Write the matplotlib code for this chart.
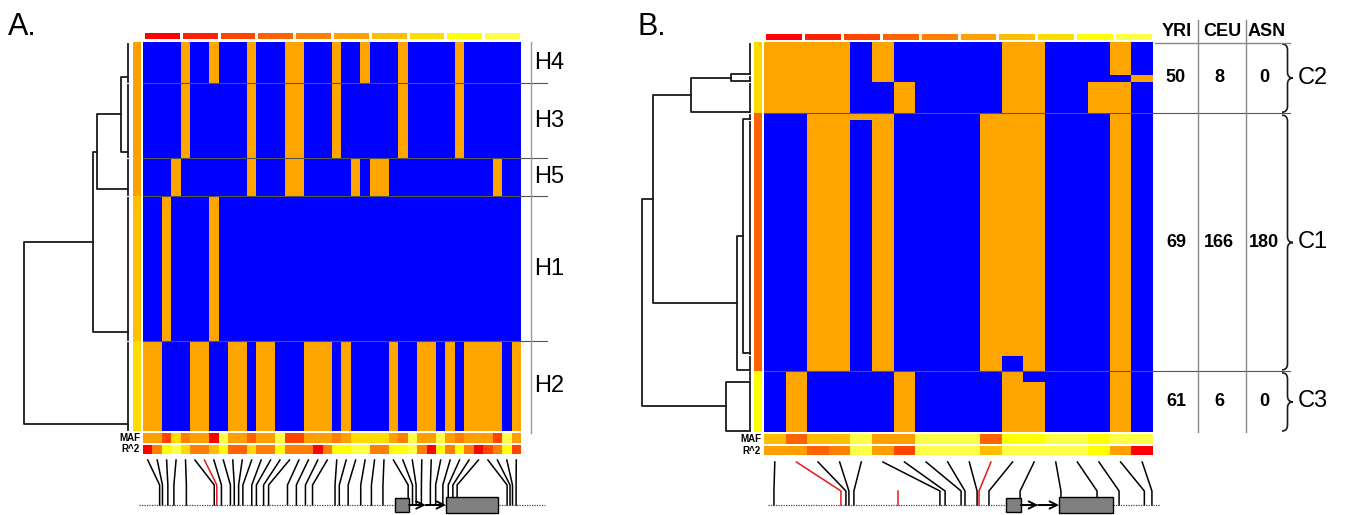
import numpy as np
import matplotlib.pyplot as plt
import matplotlib.transforms as mtransforms
from matplotlib.colors import ListedColormap
from matplotlib.patches import Rectangle, PathPatch
from matplotlib.path import Path

plt.rcParams['font.family'] = ['Liberation Sans', 'DejaVu Sans']

W, H = 1353, 515

# ---------------- data ----------------
heat_colors = ['#FF0000', '#FF2000', '#FF4400', '#FF6200', '#FF8000',
               '#FFA000', '#FFBE00', '#FFDC00', '#FFFF00', '#FFFF48']
hap_colors = ['#0000FF', '#FFA500']

# panel A, haplotype groups top to bottom (1 = minor allele, orange)
a_groups = ['H4', 'H3', 'H5', 'H1', 'H2']
a_counts = [41, 75, 38, 145, 90]
a_haps = ['0000100100' '0100011000' '1001000100' '0001000000',
          '0000100000' '0100011000' '1000000100' '0001000000',
          '0001000000' '0100011000' '0010110000' '0000000100',
          '0010000100' '0000000000' '0000000000' '0000000000',
          '1100011001' '1011000111' '0100001001' '1010111101']
a_group_level = [5, 5, 5, 6, 7]
a_maf = [5, 5, 2, 7, 4, 5, 5, 0, 9, 5, 5, 3, 5, 5, 9, 2, 2, 5, 5, 5,
         4, 5, 7, 7, 7, 7, 5, 4, 9, 5, 5, 9, 5, 4, 5, 5, 5, 2, 9, 5]
a_r2 = [0, 4, 8, 9, 7, 4, 4, 6, 8, 3, 3, 7, 4, 4, 8, 4, 4, 4, 0, 4,
        8, 8, 9, 9, 4, 4, 8, 8, 9, 4, 0, 8, 4, 8, 4, 0, 2, 4, 8, 2]
a_attach = [0.85, 0.92, 0.82, 0.94, 0.92]
a_merges = [(0, 1, 0.07), (5, 2, 0.30), (6, 3, 0.34), (7, 4, 1.0)]
a_snp_pos = [1.76, 2.06, 2.63, 3.27, 4.59, 7.54, 7.81, 8.30, 9.25, 9.66,
             10.12, 10.57, 11.51, 12.0, 12.76, 13.29, 15.29, 16.23, 17.19, 17.94,
             20.32, 20.77, 21.71, 23.04, 24.17, 25.39, 28.06, 28.52, 28.90, 29.46,
             30.41, 30.97, 31.73, 32.30, 32.79, 33.24, 38.53, 38.84, 39.10, 39.48]
a_red = [6]
a_exons = [(26.67, 28.15), (32.06, 37.57)]

# panel B, haplotype blocks top to bottom
b_blocks = ['C2', 'C2', 'C2', 'C1', 'C1', 'C1', 'C3', 'C3']
b_counts = [33, 7, 31, 7, 235, 15, 11, 50]
b_haps = ['1111010000' '01100010',
          '1111010000' '01100001',
          '1111001000' '01100110',
          '0011110000' '11100010',
          '0011010000' '11100010',
          '0011010000' '10100010',
          '0100001000' '01000010',
          '0100001000' '01100010']
b_block_level = [7, 7, 7, 3, 3, 3, 8, 8]
b_maf = [6, 3, 6, 6, 9, 5, 5, 9, 9, 9, 3, 8, 8, 9, 9, 8, 9, 9]
b_r2 = [5, 5, 3, 4, 9, 5, 2, 9, 9, 9, 6, 9, 9, 9, 9, 8, 5, 0]
b_attach = [0.97, 0.9, 0.95, 0.85, 0.99, 0.93, 1.0, 0.98]
b_merges = [(0, 1, 0.18), (8, 2, 0.55), (3, 4, 0.065), (10, 5, 0.12),
            (9, 11, 0.90), (6, 7, 0.22), (12, 13, 1.0)]
b_snp_pos = [0.46, 3.56, 3.79, 3.93, 4.16, 8.14, 8.38, 9.12, 9.30, 9.86,
             9.95, 10.41, 11.85, 13.74, 15.41, 16.43, 17.6, 17.95]
b_red = [1, 10]
b_red_ticks = [6.2]
b_exons = [(11.20, 11.89), (13.65, 16.15)]

populations = ['YRI', 'CEU', 'ASN']
clusters = ['C2', 'C1', 'C3']
cluster_counts = [[50, 8, 0], [69, 166, 180], [61, 6, 0]]

# ---------------- layout (pixels) ----------------
LA = dict(x0=143, x1=521, top=42, bottom=431, sx0=133, sx1=141, bar=(31, 40),
          maf=(433, 443), r2=(445, 454), dx0=20, dx1=128, dmax=108 / 104,
          y_top=460, y_bend=485, y_base=505, base=(139, 545), label_x=140)
LB = dict(x0=764, x1=1153, top=42, bottom=432, sx0=754, sx1=762, bar=(32, 41),
          maf=(434, 444), r2=(446, 455), dx0=638, dx1=750, dmax=112 / 108,
          y_top=462, y_bend=491, y_base=505, base=(768, 1160), label_x=761)

heat_cmap = ListedColormap(heat_colors)
hap_cmap = ListedColormap(hap_colors)
LINE = '#1a1a1a'

fig = plt.figure(figsize=(W / 100, H / 100), dpi=100)


def px_axes(x0, y0, x1, y1):
    ax = fig.add_axes([x0 / W, 1 - y1 / H, (x1 - x0) / W, (y1 - y0) / H])
    ax.set_axis_off()
    return ax


def draw_dendrogram(ax, counts, attach, merges):
    tops = np.concatenate([[0], np.cumsum(counts)[:-1]])
    ys = [t + f * c for t, c, f in zip(tops, counts, attach)]
    hs = [0.0] * len(counts)
    for a, b, h in merges:
        ax.plot([hs[a], h, h, hs[b]], [ys[a], ys[a], ys[b], ys[b]],
                color=LINE, lw=1.3, clip_on=False)
        ys.append(0.5 * (ys[a] + ys[b]))
        hs.append(h)
    for t, c in zip(tops, counts):
        ax.plot([0, 0], [t + 1.5, t + c - 1.5], color=LINE, lw=1.3, clip_on=False)


def draw_panel(L, haps, counts, levels, maf, r2, attach, merges, pos, red,
               exons, red_ticks=()):
    ncol = len(haps[0])
    nrow = sum(counts)
    edges = np.concatenate([[0], np.cumsum(counts)])

    # colour key
    ax = px_axes(L['x0'], L['bar'][0], L['x1'], L['bar'][1])
    ax.pcolormesh(np.arange(11), [0, 1], np.arange(10)[None, :], cmap=heat_cmap,
                  vmin=-0.5, vmax=9.5, edgecolors='white', linewidth=1.0)
    ax.set_xlim(0, 10)
    ax.set_ylim(0, 1)

    # haplotype matrix
    axh = px_axes(L['x0'], L['top'], L['x1'], L['bottom'])
    mat = np.array([[int(ch) for ch in h] for h in haps])
    axh.pcolormesh(np.arange(ncol + 1), edges, mat, cmap=hap_cmap, vmin=0, vmax=1)
    axh.set_xlim(0, ncol)
    axh.set_ylim(nrow, 0)

    # group colour strip
    axs = px_axes(L['sx0'], L['top'], L['sx1'], L['bottom'])
    axs.pcolormesh([0, 1], edges, np.array(levels)[:, None], cmap=heat_cmap,
                   vmin=-0.5, vmax=9.5)
    axs.set_ylim(nrow, 0)

    # MAF and R^2 rows
    for (y0, y1), vals, name in zip([L['maf'], L['r2']], [maf, r2], ['MAF', 'R^2']):
        axm = px_axes(L['x0'], y0, L['x1'], y1)
        axm.pcolormesh(np.arange(ncol + 1), [0, 1], np.array(vals)[None, :],
                       cmap=heat_cmap, vmin=-0.5, vmax=9.5)
        axm.set_xlim(0, ncol)
        fig.text(L['label_x'] / W, 1 - (y0 + y1) / 2 / H, name, ha='right',
                 va='center', fontsize=7, fontweight='bold')

    # dendrogram
    axd = px_axes(L['dx0'], L['top'], L['dx1'], L['bottom'])
    draw_dendrogram(axd, counts, attach, merges)
    axd.set_xlim(L['dmax'], 0)
    axd.set_ylim(nrow, 0)

    # SNP position links and gene model
    axl = px_axes(L['x0'], 456, L['x1'], H)
    axl.set_xlim(0, ncol)
    axl.set_ylim(H, 456)
    for c, p in enumerate(pos):
        col = '#E8191A' if c in red else 'black'
        axl.plot([c + 0.5, p, p], [L['y_top'], L['y_bend'], L['y_base']],
                 color=col, lw=1.1, clip_on=False)
    for p in red_ticks:
        axl.plot([p, p], [L['y_bend'], L['y_base']], color='#E8191A', lw=1.1,
                 clip_on=False)
    unit = ncol / (L['x1'] - L['x0'])
    lo, hi = [(v - L['x0']) * unit for v in L['base']]
    axl.plot([lo, hi], [L['y_base']] * 2, color='#444444', lw=0.9,
             ls=(0, (1, 1)), clip_on=False)
    (s0, s1), (g0, g1) = exons
    axl.add_patch(Rectangle((s0, L['y_base'] - 7), s1 - s0, 13.5, facecolor='#808080',
                            edgecolor='black', lw=1.0, zorder=3, clip_on=False))
    axl.add_patch(Rectangle((g0, L['y_base'] - 8), g1 - g0, 15.5, facecolor='#808080',
                            edgecolor='black', lw=1.0, zorder=3, clip_on=False))
    mid = s1 + 0.45 * (g0 - s1)
    for xa, xb in [(s1, mid), (mid, g0)]:
        axl.annotate('', xy=(xb, L['y_base']), xytext=(xa, L['y_base']),
                     arrowprops=dict(arrowstyle='->', lw=1.4, color='black',
                                     shrinkA=0, shrinkB=0, mutation_scale=13),
                     annotation_clip=False)
    return axh, edges


axA, edgesA = draw_panel(LA, a_haps, a_counts, a_group_level, a_maf, a_r2, a_attach,
                         a_merges, a_snp_pos, a_red, a_exons)
axB, edgesB = draw_panel(LB, b_haps, b_counts, b_block_level, b_maf, b_r2, b_attach,
                         b_merges, b_snp_pos, b_red, b_exons, b_red_ticks)

# ---------------- overlay: separators, labels, table ----------------
ov = fig.add_axes([0, 0, 1, 1], zorder=10)
ov.patch.set_alpha(0)
ov.set_xlim(0, W)
ov.set_ylim(H, 0)
ov.set_axis_off()
blendA = mtransforms.blended_transform_factory(ov.transData, axA.transData)
blendB = mtransforms.blended_transform_factory(ov.transData, axB.transData)

ov.text(8, 27, 'A.', fontsize=22, va='center', ha='left')
ov.text(638, 27, 'B.', fontsize=22, va='center', ha='left')

# panel A group separators and labels
for b in edgesA[1:-1]:
    ov.plot([LA['x0'], 547], [b, b], color='#555555', lw=0.8, transform=blendA)
ov.plot([531, 531], [LA['top'], 433], color='#999999', lw=1.0)
for g, t, c in zip(a_groups, edgesA[:-1], a_counts):
    ov.text(534, t + c / 2, g, transform=blendA, fontsize=17, va='center', ha='left')


def brace(x0, y0, y1, w, r, transform):
    xm, x1, yc = x0 + w / 2, x0 + w, (y0 + y1) / 2
    verts = [(x0, y0), (xm, y0), (xm, y0 + r), (xm, yc - r), (xm, yc), (x1, yc),
             (xm, yc), (xm, yc + r), (xm, y1 - r), (xm, y1), (x0, y1)]
    codes = [Path.MOVETO, Path.CURVE3, Path.CURVE3, Path.LINETO, Path.CURVE3,
             Path.CURVE3, Path.CURVE3, Path.CURVE3, Path.LINETO, Path.CURVE3,
             Path.CURVE3]
    ov.add_patch(PathPatch(Path(verts, codes), facecolor='none', edgecolor=LINE,
                           lw=1.2, transform=transform))


# panel B cluster spans
spans = []
for name in clusters:
    idx = [i for i, b in enumerate(b_blocks) if b == name]
    spans.append((edgesB[idx[0]], edgesB[idx[-1] + 1]))

for s0, s1 in spans:
    if s0 > 0:
        ov.plot([LB['x0'], 1290], [s0, s0], color='#555555', lw=0.8, transform=blendB)
ov.plot([1155, 1290], [43, 43], color='#888888', lw=1.0)
for xs in [1198, 1246]:
    ov.plot([xs, xs], [20, 432], color='#888888', lw=1.0)

col_x = [1177, 1222, 1267]
for x, p in zip(col_x, populations):
    ov.text(x, 32, p, fontsize=13, fontweight='bold', ha='center', va='center')

num_x = [1176, 1219, 1264]
for name, (s0, s1), counts in zip(clusters, spans, cluster_counts):
    yc = (s0 + s1) / 2
    for x, v in zip(num_x, counts):
        ov.text(x, yc, str(v), transform=blendB, fontsize=13, fontweight='bold',
                ha='center', va='center')
    brace(1282, s0 + 2, s1 - 1, 11, 6, blendB)
    ov.text(1298, yc, name, transform=blendB, fontsize=17, ha='left', va='center')

fig.savefig('out.png', dpi=100)
